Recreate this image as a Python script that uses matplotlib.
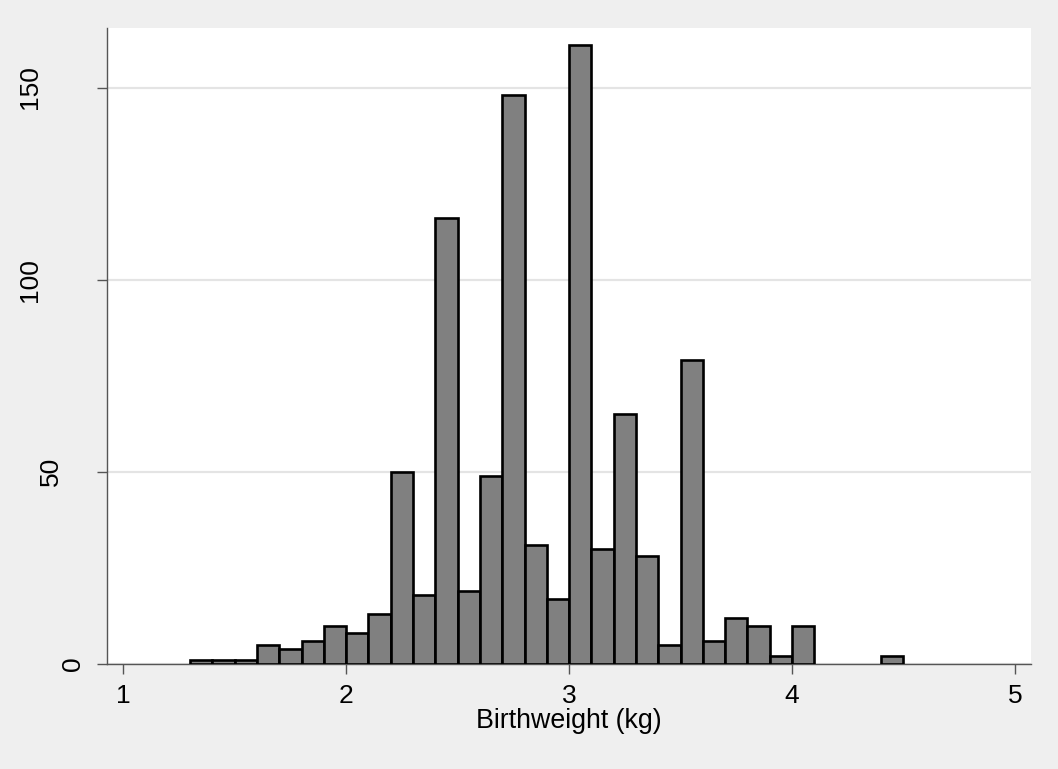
#!/usr/bin/env python3

import matplotlib
matplotlib.use('Agg')
import matplotlib.pyplot as plt
import matplotlib.transforms as mtransforms

# histogram bins (left edge, kg) and counts, bin width 0.1 kg
binLeft = [1.3, 1.4, 1.5, 1.6, 1.7, 1.8, 1.9, 2.0, 2.1, 2.2,
           2.3, 2.4, 2.5, 2.6, 2.7, 2.8, 2.9, 3.0, 3.1, 3.2,
           3.3, 3.4, 3.5, 3.6, 3.7, 3.8, 3.9, 4.0, 4.4]
counts = [1, 1, 1, 5, 4, 6, 10, 8, 13, 50,
          18, 116, 19, 49, 148, 31, 17, 161, 30, 65,
          28, 5, 79, 6, 12, 10, 2, 10, 2]
binWidth = 0.1

xTicks = [1, 2, 3, 4, 5]
yTicks = [0, 50, 100, 150]
xLabel = "Birthweight (kg)"

plt.rcParams['font.family'] = ['Liberation Sans', 'DejaVu Sans']

fig = plt.figure(figsize=(10.58, 7.69), dpi=100, facecolor='#efefef')
ax = fig.add_axes([0.1011, 0.1365, 0.8738, 0.8271])
ax.set_facecolor('white')

ax.bar(binLeft, counts, width=binWidth, align='edge',
       color='#808080', edgecolor='black', linewidth=1.9, zorder=3)

ax.set_xlim(0.927, 5.074)
ax.set_ylim(0, 165.5)

for side in ['top', 'right']:
    ax.spines[side].set_visible(False)
for side in ['left', 'bottom']:
    ax.spines[side].set_color('#555555')
    ax.spines[side].set_linewidth(1.0)
    ax.spines[side].set_zorder(2)

ax.set_xticks(xTicks)
ax.set_xticklabels([str(t) for t in xTicks], fontsize=19)
ax.set_yticks(yTicks)
ax.set_yticklabels([])
ax.tick_params(axis='both', direction='out', length=7.5, width=1.0,
               color='#555555')
ax.tick_params(axis='x', pad=7)

# horizontal grid lines only
ax.yaxis.grid(True, color='#e4e4e4', linewidth=1.6, zorder=1)
ax.set_axisbelow(True)

# rotated y labels, shifted left by their length like the original
for t in yTicks:
    s = str(t)
    shift = -(22 + (len(s) - 1) * 21.6)
    tr = mtransforms.offset_copy(ax.get_yaxis_transform(), fig=fig,
                                 x=shift, y=0, units='dots')
    ax.text(0, t, s, transform=tr, rotation=90, ha='right', va='center',
            fontsize=19, color='black')

ax.set_xlabel(xLabel, fontsize=19.3, labelpad=0)

fig.savefig("out.png", dpi=100, facecolor=fig.get_facecolor())
